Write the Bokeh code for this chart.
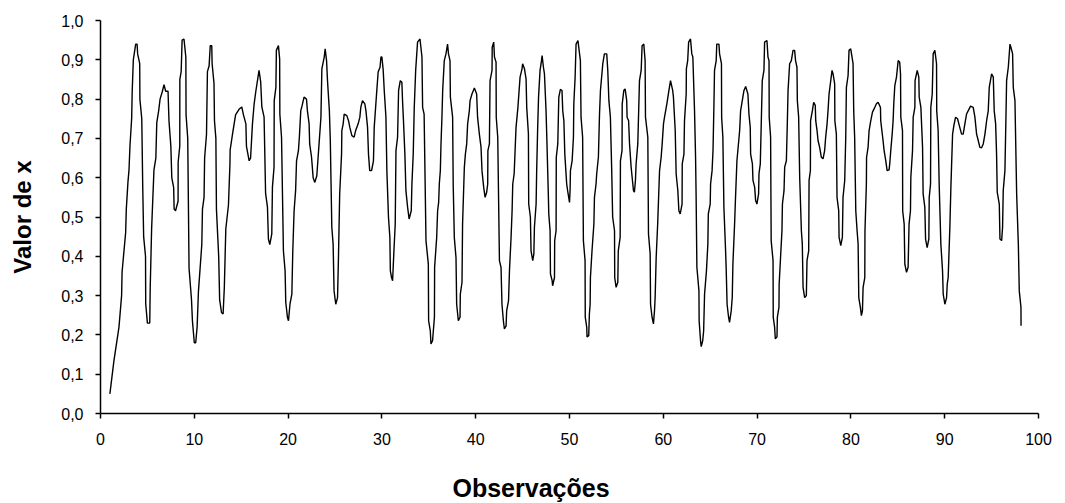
from bokeh.plotting import figure
from bokeh.models import FixedTicker, CustomJSTickFormatter, Range1d, Title
from bokeh.embed import file_html
from bokeh.resources import INLINE

x_title = "Observações"
y_title = "Valor de x"
x_ticks = [0, 10, 20, 30, 40, 50, 60, 70, 80, 90, 100]
y_ticks = [0.0, 0.1, 0.2, 0.3, 0.4, 0.5, 0.6, 0.7, 0.8, 0.9, 1.0]

observacao = [
    1.0, 1.43, 1.97, 2.25, 2.3, 2.68, 2.75, 2.93, 3.04, 3.14, 3.32, 3.38, 3.5, 3.75, 3.9, 3.96, 4.18, 4.2, 4.4, 4.5,
    4.6, 4.8, 4.82, 5.0, 5.25, 5.3, 5.45, 5.7, 5.9, 6.0, 6.2, 6.35, 6.6, 6.77, 6.95, 7.2, 7.3, 7.5, 7.6, 7.8,
    7.85, 8.0, 8.27, 8.28, 8.45, 8.46, 8.6, 8.7, 8.9, 9.1, 9.12, 9.3, 9.44, 9.7, 9.8, 10.0, 10.15, 10.3, 10.44, 10.8,
    10.87, 11.04, 11.1, 11.3, 11.4, 11.58, 11.7, 11.86, 11.9, 12.1, 12.15, 12.3, 12.36, 12.6, 12.7, 12.9, 13.07, 13.2, 13.36, 13.64,
    13.8, 13.82, 14.07, 14.4, 14.8, 15.06, 15.24, 15.5, 15.56, 15.85, 16.0, 16.2, 16.38, 16.56,
    16.9, 17.08, 17.2, 17.44, 17.6, 17.8, 17.9, 18.05, 18.26, 18.33, 18.5, 18.52, 18.7, 18.75, 18.97, 19.1, 19.12, 19.3, 19.5, 19.68,
    19.75, 19.93, 20.04, 20.2, 20.4, 20.5, 20.64, 20.8, 20.9, 21.1, 21.2, 21.35, 21.5, 21.7, 21.96, 22.06, 22.24, 22.3, 22.5, 22.67,
    22.85, 23.06, 23.2, 23.3, 23.5, 23.6, 23.85, 23.95, 24.1, 24.2, 24.4, 24.5, 24.66, 24.8, 24.9, 25.08, 25.27, 25.37, 25.5, 25.7,
    25.73, 25.87, 25.98, 26.26, 26.44, 26.58, 26.8, 27.04, 27.2, 27.47, 27.65, 27.75, 27.93, 28.18, 28.3, 28.47, 28.57, 28.7, 28.9, 29.1,
    29.18, 29.43, 29.6, 29.8, 29.9, 30.0, 30.14, 30.25, 30.43, 30.53, 30.7, 30.85, 30.9, 31.03, 31.14, 31.25, 31.42, 31.5, 31.67, 31.78,
    31.96, 32.13, 32.2, 32.3, 32.45, 32.56, 32.74, 32.9, 33.13, 33.2, 33.34, 33.45, 33.6,
    33.8, 34.06, 34.27, 34.34, 34.5, 34.7, 34.95, 34.98, 35.16, 35.23, 35.4, 35.6, 35.62, 35.84, 35.94, 36.05, 36.12, 36.23, 36.3, 36.4,
    36.48, 36.65, 36.83, 37.0, 37.1, 37.26, 37.3, 37.54, 37.6, 37.72, 37.9, 37.97, 38.15, 38.33, 38.36, 38.54, 38.6, 38.79, 38.9, 39.04,
    39.14, 39.32, 39.4, 39.6, 39.86, 40.1, 40.2, 40.39, 40.57, 40.67, 40.85, 41.0, 41.17, 41.28, 41.3, 41.46, 41.53, 41.74, 41.76, 41.92,
    42.0, 42.17, 42.19, 42.35, 42.53, 42.7, 42.8, 42.95, 43.06, 43.24, 43.3, 43.5, 43.6, 43.77, 43.88, 43.95, 44.1, 44.2, 44.3, 44.5,
    44.73, 44.94, 45.0, 45.2, 45.37, 45.44, 45.62, 45.65, 45.83, 45.9, 46.08, 46.2, 46.26, 46.44, 46.5, 46.6, 46.7, 46.86, 46.97, 47.08,
    47.22, 47.33, 47.5, 47.6, 47.75, 47.79, 47.93, 47.97, 48.15, 48.2, 48.4, 48.42, 48.57, 48.59, 48.75, 48.86, 49.03, 49.2, 49.28, 49.4,
    49.5, 49.7, 49.8, 50.0, 50.06, 50.1, 50.28, 50.42, 50.46, 50.6, 50.7, 50.9,
    51.16, 51.23, 51.4, 51.48, 51.66, 51.68, 51.84, 51.87, 52.05, 52.12, 52.2, 52.23, 52.4, 52.6, 52.66, 52.83, 52.9, 53.08, 53.2, 53.3,
    53.55, 53.72, 53.97, 54.08, 54.2, 54.36, 54.5, 54.6, 54.8, 54.82, 54.97, 55.15, 55.2, 55.4, 55.43, 55.6, 55.62, 55.79, 55.93, 56.1,
    56.14, 56.3, 56.4, 56.57, 56.64, 56.82, 56.92, 57.03, 57.1, 57.28, 57.46, 57.64, 57.74, 57.92, 58.06, 58.1, 58.35, 58.42, 58.6, 58.64,
    58.8, 58.95, 59.06, 59.13, 59.24, 59.4, 59.5, 59.6, 59.77, 59.88, 60.02, 60.13, 60.38, 60.6, 60.77, 61.0, 61.08, 61.27, 61.37, 61.44,
    61.55, 61.66, 61.8, 62.0, 62.02, 62.2, 62.26, 62.44, 62.46, 62.6, 62.7, 62.9, 63.04, 63.15, 63.33, 63.44, 63.5, 63.58, 63.8, 63.82,
    63.97, 64.04, 64.2, 64.3, 64.4, 64.6, 64.75, 64.8, 65.0, 65.04, 65.2, 65.3, 65.4, 65.46, 65.64, 65.7, 65.93, 66.0, 66.2, 66.22,
    66.35, 66.46, 66.64, 66.7, 66.8, 66.96, 67.06, 67.24, 67.35, 67.42, 67.6, 67.7, 67.85,
    68.14, 68.24, 68.42, 68.6, 68.78, 69.02, 69.13, 69.27, 69.31, 69.5, 69.56, 69.74, 69.84, 69.98, 70.16, 70.2, 70.34, 70.45, 70.55, 70.73,
    70.8, 71.05, 71.16, 71.27, 71.29, 71.44, 71.5, 71.7, 71.72, 71.87, 71.94, 72.12, 72.16, 72.33, 72.35, 72.5, 72.65, 72.7, 72.87, 72.94,
    73.12, 73.22, 73.3, 73.47, 73.65, 73.83, 74.0, 74.1, 74.25, 74.29, 74.43, 74.54, 74.72, 74.82, 74.9, 75.07, 75.25, 75.32, 75.5, 75.54,
    75.68, 75.7, 75.89, 76.03, 76.2, 76.25, 76.39, 76.5, 76.67, 76.85, 77.03, 77.2, 77.31, 77.46, 77.56, 77.67, 77.81, 77.99, 78.1, 78.27,
    78.29, 78.45, 78.52, 78.7, 78.74, 78.92, 79.09, 79.16, 79.34, 79.45, 79.52, 79.7, 79.8, 79.98, 80.12, 80.23, 80.3, 80.4, 80.52, 80.66,
    80.77, 80.84, 81.01, 81.12, 81.23, 81.3, 81.48, 81.5, 81.65, 81.67, 81.83, 81.94, 82.12, 82.3, 82.47, 82.72, 82.9, 83.15, 83.18, 83.43,
    83.54, 83.72, 83.86, 84.07, 84.14, 84.25, 84.4, 84.5, 84.57, 84.68, 84.86,
    85.04, 85.2, 85.29, 85.32, 85.5, 85.52, 85.68, 85.75, 85.93, 86.1, 86.2, 86.35, 86.39, 86.57, 86.64, 86.82, 86.84, 87.07, 87.24, 87.28,
    87.46, 87.64, 87.7, 87.88, 87.96, 88.13, 88.31, 88.35, 88.49, 88.52, 88.67, 88.77, 88.95, 89.13, 89.15, 89.3, 89.41, 89.59, 89.77, 89.84,
    90.02, 90.2, 90.27, 90.37, 90.55, 90.66, 90.84, 90.98, 91.16, 91.37, 91.55, 91.8, 91.97, 92.15, 92.33, 92.5, 92.76, 93.04, 93.22, 93.4,
    93.58, 93.75, 93.93, 94.11, 94.29, 94.47, 94.64, 94.75, 95.0, 95.18, 95.28, 95.43, 95.53, 95.6, 95.82, 95.89, 96.07, 96.17, 96.24, 96.42,
    96.53, 96.6, 96.78, 96.96, 97.06, 97.24, 97.31, 97.49, 97.67, 97.85, 97.95, 98.13, 98.14,
]

valor = [
    0.05, 0.134, 0.22, 0.30, 0.36, 0.46, 0.52, 0.59, 0.62, 0.68, 0.75, 0.82, 0.90, 0.94, 0.94, 0.915, 0.89, 0.80, 0.75, 0.58,
    0.45, 0.40, 0.28, 0.23, 0.23, 0.32, 0.47, 0.62, 0.65, 0.74, 0.77, 0.80, 0.82, 0.837, 0.82, 0.82, 0.745, 0.68, 0.60, 0.575,
    0.52, 0.516, 0.54, 0.64, 0.68, 0.85, 0.87, 0.95, 0.953, 0.906, 0.76, 0.70, 0.37, 0.29, 0.236, 0.18, 0.18, 0.22, 0.31, 0.43,
    0.52, 0.55, 0.65, 0.71, 0.87, 0.885, 0.936, 0.936, 0.89, 0.84, 0.745, 0.70, 0.52, 0.40, 0.29, 0.257, 0.253, 0.32, 0.47, 0.53,
    0.635, 0.67, 0.71, 0.76, 0.775, 0.78, 0.76, 0.737, 0.68, 0.643, 0.65, 0.737, 0.788, 0.82,
    0.873, 0.843, 0.78, 0.754, 0.56, 0.525, 0.444, 0.43, 0.457, 0.576, 0.627, 0.796, 0.83, 0.924, 0.936, 0.902, 0.762, 0.703, 0.414, 0.363,
    0.283, 0.245, 0.236, 0.278, 0.304, 0.414, 0.516, 0.567, 0.643, 0.669, 0.703, 0.77, 0.784, 0.805, 0.80, 0.77, 0.737, 0.686, 0.652, 0.60,
    0.588, 0.605, 0.652, 0.686, 0.754, 0.877, 0.907, 0.928, 0.898, 0.847, 0.77, 0.694, 0.474, 0.431, 0.312, 0.278, 0.295, 0.397, 0.559, 0.66,
    0.72, 0.737, 0.762, 0.758, 0.745, 0.728, 0.707, 0.703, 0.72, 0.737, 0.754, 0.779, 0.796, 0.788, 0.77, 0.728, 0.66, 0.618, 0.618, 0.643,
    0.728, 0.813, 0.869, 0.881, 0.907, 0.907, 0.873, 0.822, 0.754, 0.618, 0.50, 0.448, 0.363, 0.346, 0.338, 0.397, 0.482, 0.669, 0.703, 0.822,
    0.847, 0.843, 0.796, 0.745, 0.66, 0.567, 0.525, 0.495, 0.516, 0.584, 0.66, 0.779, 0.873,
    0.945, 0.953, 0.907, 0.779, 0.762, 0.44, 0.38, 0.236, 0.21, 0.177, 0.185, 0.245, 0.372, 0.448, 0.516, 0.537, 0.584, 0.618, 0.686, 0.754,
    0.822, 0.898, 0.915, 0.94, 0.915, 0.898, 0.805, 0.754, 0.584, 0.448, 0.397, 0.278, 0.236, 0.245, 0.304, 0.334, 0.482, 0.627, 0.66, 0.686,
    0.737, 0.77, 0.796, 0.813, 0.828, 0.813, 0.754, 0.711, 0.677, 0.618, 0.576, 0.55, 0.563, 0.584, 0.669, 0.686, 0.847, 0.873, 0.932, 0.945,
    0.907, 0.894, 0.754, 0.703, 0.389, 0.372, 0.278, 0.236, 0.215, 0.223, 0.261, 0.287, 0.363, 0.448, 0.516, 0.584, 0.61, 0.669, 0.728, 0.779,
    0.856, 0.877, 0.89, 0.877, 0.851, 0.779, 0.711, 0.533, 0.50, 0.414, 0.389, 0.406, 0.474, 0.533, 0.618, 0.72, 0.805, 0.873, 0.89, 0.911,
    0.881, 0.864, 0.77, 0.686, 0.55, 0.508, 0.465, 0.355, 0.338, 0.325, 0.346, 0.44, 0.465, 0.652, 0.686, 0.805, 0.825, 0.822, 0.77, 0.745,
    0.66, 0.584, 0.567, 0.537, 0.567, 0.618, 0.643, 0.703, 0.788, 0.856, 0.94, 0.949,
    0.898, 0.754, 0.703, 0.44, 0.389, 0.245, 0.219, 0.195, 0.198, 0.253, 0.278, 0.346, 0.414, 0.482, 0.55, 0.584, 0.61, 0.652, 0.762, 0.822,
    0.89, 0.915, 0.915, 0.873, 0.796, 0.754, 0.618, 0.50, 0.465, 0.346, 0.321, 0.334, 0.414, 0.448, 0.643, 0.669, 0.788, 0.822, 0.826, 0.796,
    0.754, 0.745, 0.686, 0.627, 0.61, 0.567, 0.563, 0.593, 0.635, 0.686, 0.847, 0.873, 0.936, 0.94, 0.898, 0.754, 0.703, 0.457, 0.406, 0.278,
    0.245, 0.228, 0.261, 0.295, 0.397, 0.482, 0.55, 0.618, 0.652, 0.686, 0.737, 0.754, 0.788, 0.822, 0.847, 0.822, 0.805, 0.72, 0.61, 0.593,
    0.567, 0.516, 0.508, 0.533, 0.635, 0.66, 0.745, 0.813, 0.877, 0.898, 0.945, 0.953, 0.915, 0.907, 0.77, 0.652, 0.55, 0.372, 0.312, 0.236,
    0.185, 0.17, 0.185, 0.21, 0.304, 0.363, 0.431, 0.508, 0.533, 0.584, 0.618, 0.669, 0.788, 0.873, 0.898, 0.94, 0.94, 0.915, 0.89, 0.754,
    0.703, 0.525, 0.414, 0.372, 0.278, 0.245, 0.232, 0.261, 0.295, 0.38, 0.482, 0.55, 0.643,
    0.72, 0.77, 0.796, 0.822, 0.832, 0.813, 0.762, 0.728, 0.66, 0.635, 0.593, 0.576, 0.542, 0.533, 0.559, 0.61, 0.635, 0.745, 0.847, 0.873,
    0.945, 0.949, 0.907, 0.898, 0.754, 0.703, 0.44, 0.389, 0.245, 0.219, 0.19, 0.195, 0.245, 0.27, 0.329, 0.397, 0.465, 0.533, 0.567, 0.627,
    0.643, 0.737, 0.822, 0.89, 0.898, 0.924, 0.924, 0.898, 0.881, 0.796, 0.754, 0.601, 0.465, 0.431, 0.321, 0.295, 0.30, 0.389, 0.414, 0.593,
    0.618, 0.745, 0.77, 0.792, 0.784, 0.745, 0.72, 0.694, 0.677, 0.652, 0.648, 0.669, 0.703, 0.737, 0.77, 0.813, 0.839, 0.873, 0.864, 0.839,
    0.745, 0.711, 0.55, 0.516, 0.448, 0.427, 0.448, 0.55, 0.593, 0.703, 0.83, 0.86, 0.924, 0.928, 0.907, 0.89, 0.77, 0.703, 0.516, 0.465,
    0.431, 0.295, 0.27, 0.249, 0.261, 0.321, 0.346, 0.465, 0.584, 0.652, 0.677, 0.72, 0.745, 0.767, 0.775, 0.788, 0.792, 0.779, 0.745, 0.694,
    0.669, 0.643, 0.618, 0.62, 0.635, 0.669, 0.711, 0.745, 0.788, 0.834, 0.856,
    0.898, 0.894, 0.864, 0.754, 0.72, 0.516, 0.482, 0.38, 0.359, 0.372, 0.482, 0.516, 0.601, 0.669, 0.754, 0.779, 0.847, 0.873, 0.856, 0.805,
    0.779, 0.677, 0.559, 0.525, 0.444, 0.422, 0.444, 0.55, 0.584, 0.779, 0.813, 0.915, 0.924, 0.89, 0.77, 0.72, 0.584, 0.431, 0.363, 0.304,
    0.278, 0.295, 0.329, 0.346, 0.474, 0.576, 0.711, 0.733, 0.754, 0.75, 0.733, 0.711, 0.711, 0.737, 0.762, 0.77, 0.782, 0.779, 0.754, 0.711,
    0.694, 0.677, 0.676, 0.686, 0.711, 0.745, 0.77, 0.83, 0.864, 0.856, 0.77, 0.737, 0.66, 0.563, 0.533, 0.444, 0.44, 0.474, 0.567, 0.618,
    0.754, 0.847, 0.881, 0.94, 0.932, 0.915, 0.83, 0.796, 0.559, 0.431, 0.312, 0.27, 0.223,
]

FONT = "Liberation Sans"

p = figure(width=1065, height=503, output_backend="svg", toolbar_location=None,
           x_range=Range1d(0, 100), y_range=Range1d(0, 1.0),
           min_border_left=100, min_border_right=27, min_border_top=20, min_border_bottom=90)

p.line(observacao, valor, line_color="black", line_width=1.4)

p.grid.visible = False
p.outline_line_color = None
p.background_fill_color = "white"
p.border_fill_color = "white"

for ax in (p.xaxis[0], p.yaxis[0]):
    ax.axis_line_color = "black"
    ax.axis_line_width = 1.5
    ax.major_tick_line_color = "black"
    ax.major_tick_line_width = 1.5
    ax.major_tick_in = 0
    ax.major_tick_out = 5
    ax.minor_tick_line_color = None
    ax.major_label_text_font = FONT
    ax.major_label_text_font_size = "16px"
    ax.major_label_text_color = "black"
    ax.axis_label_text_font = FONT
    ax.axis_label_text_font_style = "bold"
    ax.axis_label_text_color = "black"

p.xaxis[0].ticker = FixedTicker(ticks=x_ticks)
p.yaxis[0].ticker = FixedTicker(ticks=y_ticks)
p.yaxis[0].formatter = CustomJSTickFormatter(code="return tick.toFixed(1).replace('.', ',');")
p.xaxis[0].formatter = CustomJSTickFormatter(code="return tick.toFixed(0);")

p.yaxis[0].axis_label = y_title
p.yaxis[0].axis_label_text_font_size = "24px"
p.xaxis[0].major_label_standoff = 14
p.yaxis[0].major_label_standoff = 12
p.yaxis[0].axis_label_standoff = 22

# spacer between tick labels and the x-axis title
p.add_layout(Title(text=" ", standoff=0, text_font=FONT, text_font_size="20px"), "below")
# x-axis title: below the axis, a little left of centre as in the reference
p.add_layout(Title(text=x_title, align="left", offset=352, standoff=0,
                   text_font=FONT, text_font_style="bold", text_font_size="25px",
                   text_color="black"), "below")

open("out.html", "w").write(file_html(p, INLINE))
